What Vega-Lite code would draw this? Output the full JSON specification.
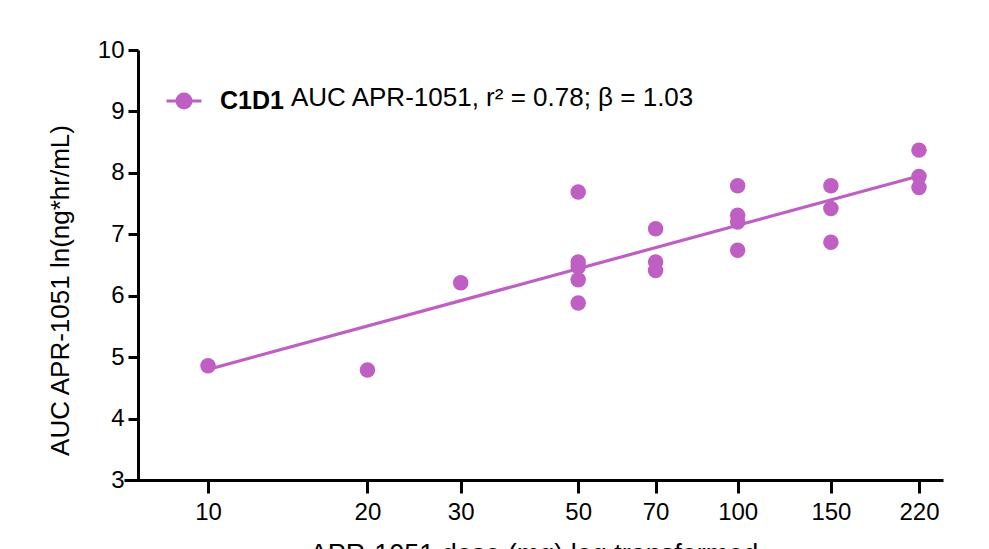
{
  "$schema": "https://vega.github.io/schema/vega-lite/v6.json",
  "width": 819,
  "height": 430,
  "autosize": {"type": "none"},
  "padding": {"left": 124, "top": 50, "right": 46, "bottom": 69},
  "background": "white",
  "config": {"font": "Liberation Sans", "view": {"stroke": null}},
  "datasets": {
    "points": [
      {"dose": 10, "auc": 4.86, "series": "C1D1"},
      {"dose": 20, "auc": 4.79, "series": "C1D1"},
      {"dose": 30, "auc": 6.21, "series": "C1D1"},
      {"dose": 50, "auc": 7.69, "series": "C1D1"},
      {"dose": 50, "auc": 6.55, "series": "C1D1"},
      {"dose": 50, "auc": 6.47, "series": "C1D1"},
      {"dose": 50, "auc": 6.26, "series": "C1D1"},
      {"dose": 50, "auc": 5.88, "series": "C1D1"},
      {"dose": 70, "auc": 7.09, "series": "C1D1"},
      {"dose": 70, "auc": 6.55, "series": "C1D1"},
      {"dose": 70, "auc": 6.41, "series": "C1D1"},
      {"dose": 100, "auc": 7.79, "series": "C1D1"},
      {"dose": 100, "auc": 7.31, "series": "C1D1"},
      {"dose": 100, "auc": 7.2, "series": "C1D1"},
      {"dose": 100, "auc": 6.74, "series": "C1D1"},
      {"dose": 150, "auc": 7.79, "series": "C1D1"},
      {"dose": 150, "auc": 7.42, "series": "C1D1"},
      {"dose": 150, "auc": 6.87, "series": "C1D1"},
      {"dose": 220, "auc": 8.37, "series": "C1D1"},
      {"dose": 220, "auc": 7.94, "series": "C1D1"},
      {"dose": 220, "auc": 7.76, "series": "C1D1"}
    ],
    "fit": [
      {"dose": 10, "auc": 4.8, "series": "C1D1"},
      {"dose": 220, "auc": 7.95, "series": "C1D1"}
    ]
  },
  "layer": [
    {
      "data": {"name": "fit"},
      "mark": {"type": "line", "strokeWidth": 3.2, "color": "#BF5FC3"},
      "encoding": {
        "x": {"field": "dose", "type": "quantitative", "scale": {"type": "log", "domain": [6.94, 244.2], "nice": false}},
        "y": {"field": "auc", "type": "quantitative", "scale": {"domain": [3, 10], "nice": false, "zero": false}}
      }
    },
    {
      "data": {"name": "points"},
      "mark": {"type": "point", "filled": true, "size": 240, "opacity": 1},
      "encoding": {
        "x": {
          "field": "dose", "type": "quantitative",
          "scale": {"type": "log", "domain": [6.94, 244.2], "nice": false},
          "axis": {
            "values": [10, 20, 30, 50, 70, 100, 150, 220],
            "format": "d",
            "grid": false,
            "domainColor": "black", "domainWidth": 3,
            "tickColor": "black", "tickWidth": 3, "tickSize": 13,
            "labelFontSize": 24, "labelColor": "black", "labelPadding": 7,
            "title": "APR-1051 dose (mg) log transformed",
            "titleFontSize": 27, "titleFontWeight": "normal", "titleColor": "black", "titlePadding": 17
          }
        },
        "y": {
          "field": "auc", "type": "quantitative",
          "scale": {"domain": [3, 10], "nice": false, "zero": false},
          "axis": {
            "values": [3, 4, 5, 6, 7, 8, 9, 10],
            "format": "d",
            "offset": -14,
            "grid": false,
            "domainColor": "black", "domainWidth": 3,
            "tickColor": "black", "tickWidth": 3, "tickSize": 10,
            "labelFontSize": 24, "labelColor": "black", "labelPadding": 4,
            "title": "AUC APR-1051 ln(ng*hr/mL)",
            "titleFontSize": 26, "titleFontWeight": "normal", "titleColor": "black",
            "titlePadding": 24, "titleY": 240
          }
        },
        "color": {
          "field": "series", "type": "nominal",
          "scale": {"range": ["#BF5FC3"]},
          "legend": {
            "orient": "none", "legendX": 41, "legendY": 32,
            "padding": 0,
            "symbolType": "M-1,0L1,0M-0.4,0A0.4,0.4,0,1,1,0.4,0A0.4,0.4,0,1,1,-0.4,0Z",
            "symbolSize": 1225,
            "symbolStrokeWidth": 3,
            "symbolFillColor": "#BF5FC3",
            "symbolStrokeColor": "#BF5FC3",
            "labelFontSize": 25, "labelFontWeight": "bold", "labelColor": "black", "labelOffset": 17,
            "title": "AUC APR-1051, r² = 0.78; β = 1.03",
            "titleOrient": "right", "titleFontSize": 26, "titleFontWeight": "normal", "titleColor": "black",
            "titlePadding": 7, "titleBaseline": "middle", "titleAnchor": "middle", "titleLimit": 600
          }
        }
      }
    }
  ]
}
